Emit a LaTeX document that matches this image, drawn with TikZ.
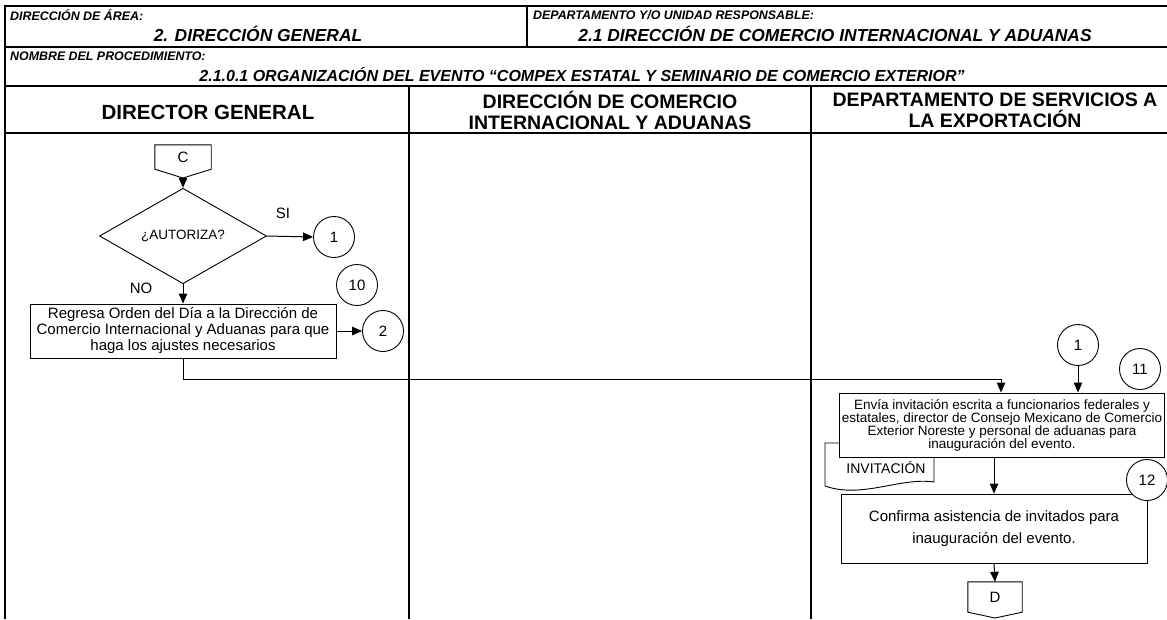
\documentclass[tikz,border=0pt]{standalone}
\usepackage{fontspec}
\setmainfont{Liberation Sans}
\usetikzlibrary{arrows.meta,positioning,shapes.geometric}

\begin{document}
\begin{tikzpicture}[x=1pt,y=-1pt,
  font=\fontsize{15}{16}\selectfont,
  ln/.style={line width=1.1pt},
  lbl/.style={font=\fontsize{12.4}{14}\selectfont\bfseries\itshape,anchor=west,inner sep=0pt},
  ttl/.style={font=\fontsize{17.4}{19}\selectfont\bfseries\itshape,inner sep=0pt},
  hd/.style={font=\fontsize{19.5}{21}\selectfont\bfseries,align=center,inner sep=0pt},
  st/.style={draw,line width=0.9pt,fill=white,align=center,inner sep=2pt},
  cir/.style={draw,circle,line width=0.9pt,fill=white,minimum size=41pt,inner sep=0pt},
  dec/.style={draw,diamond,line width=0.9pt,minimum width=167pt,minimum height=76pt,
              inner sep=0pt,font=\fontsize{13.5}{15}\selectfont},
  offp/.style={minimum width=56pt,inner sep=0pt},
  a/.style={-{Triangle[length=10pt,width=8.5pt]},line width=1pt}
]
\useasboundingbox (0,0) rectangle (1167,619);

% frame
\draw[ln] (1167,6) -- (5,6) -- (5,619);
\draw[ln] (5,47) -- (1167,47);
\draw[ln] (527,6) -- (527,47);
\draw[ln] (5,86) -- (1167,86);
\draw[ln] (5,133) -- (1167,133);
\draw[ln] (409,86) -- (409,619);
\draw[ln] (811,86) -- (811,619);

% header
\node[lbl] (areal) at (10,15) {DIRECCIÓN DE ÁREA:};
\node[ttl] (area) at (258,34) {2. DIRECCIÓN GENERAL};
\node[lbl] (deptl) at (533,15) {DEPARTAMENTO Y/O UNIDAD RESPONSABLE:};
\node[ttl] (dept) at (835,34) {2.1 DIRECCIÓN DE COMERCIO INTERNACIONAL Y ADUANAS};
\node[lbl] (procl) at (10,56) {NOMBRE DEL PROCEDIMIENTO:};
\node[ttl,font=\fontsize{16}{18}\selectfont\bfseries\itshape] (proc) at (582,75)
  {2.1.0.1 ORGANIZACIÓN DEL EVENTO “COMPEX ESTATAL Y SEMINARIO DE COMERCIO EXTERIOR”};

% lanes
\node[hd,font=\fontsize{20.5}{21}\selectfont\bfseries] (dg) at (208,112) {DIRECTOR GENERAL};
\node[hd] (dcia) at (610,110) {DIRECCIÓN DE COMERCIO\\INTERNACIONAL Y ADUANAS};
\node[hd] (dse) at (995,110) {DEPARTAMENTO DE SERVICIOS A\\LA EXPORTACIÓN};

% director general
\node[offp,minimum height=24pt] (C) at (183,157) {C};
\coordinate (Ctip) at (183,178);
\draw[line width=0.9pt] (C.north west) -- (C.north east) -- (C.south east)
  -- (Ctip) -- (C.south west) -- cycle;
\node[dec] (aut) at (183,236) {¿AUTORIZA?};
\node[cir] (c1a) at (334,237) {1};
\node (si) at (283,213) {SI};
\node[st,minimum width=306pt,minimum height=54pt] (reg) at (183,331)
  {Regresa Orden del Día a la Dirección de\\Comercio Internacional y Aduanas para que\\haga los ajustes necesarios};
\node (no) at (141,288) {NO};
\node[cir] (c10) at (357,285) {10};
\node[cir] (c2) at (383,331) {2};

% servicios a la exportacion
\node[cir] (c1b) at (1078,345) {1};
\node[cir] (c11) at (1140,369) {11};
\draw[line width=0.9pt,fill=white] (825,443) -- (934,443) -- (934,482)
  .. controls (900,477) and (862,499) .. (825,486) -- cycle;
\node[font=\fontsize{14}{15}\selectfont] (inv) at (886,467) {INVITACIÓN};
\node[st,minimum width=322pt,minimum height=64pt,font=\fontsize{13.5}{13}\selectfont] (env) at (1002,425)
  {Envía invitación escrita a funcionarios federales y\\estatales, director de Consejo Mexicano de Comercio\\Exterior Noreste y personal de aduanas para\\inauguración del evento.};
\node[st,minimum width=306pt,minimum height=69pt,font=\fontsize{15}{22}\selectfont] (conf) at (994,528.5)
  {Confirma asistencia de invitados para\\inauguración del evento.};
\node[cir] (c12) at (1147,480) {12};
\node[offp,minimum width=54pt,minimum height=30pt] (D) at (995,597) {D};
\coordinate (Dtip) at (995,618);
\draw[line width=0.9pt] (D.north west) -- (D.north east) -- (D.south east)
  -- (Dtip) -- (D.south west) -- cycle;

% arrows
\draw[a] (Ctip) -- (aut.north);
\draw[a] (aut.east) -- (c1a.west);
\draw[a] (aut.south) -- (reg.north);
\draw[a] (reg.east) -- (c2.west);
\coordinate (jn) at (1001,379);
\draw[a] (reg.south) |- (jn) -- (jn |- env.north);
\draw[a] (c1b.south) -- (c1b.south |- env.north);
\draw[a] (conf.north |- env.south) -- (conf.north);
\draw[a] (conf.south) -- (D.north);
\end{tikzpicture}
\end{document}
